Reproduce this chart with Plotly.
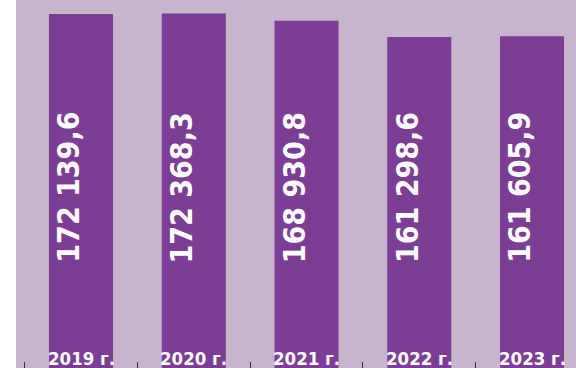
import plotly.graph_objects as go

# Annual totals
years = ["2019 г.", "2020 г.", "2021 г.", "2022 г.", "2023 г."]
values = [172139.6, 172368.3, 168930.8, 161298.6, 161605.9]

BAR = "#7c3d95"
BG = "#c8b4cc"
FONT = "DejaVu Sans Condensed, Liberation Sans Narrow, sans-serif"


def fmt(v):
    # 172139.6 -> "172 139,6"
    return f"{v:,.1f}".replace(",", " ").replace(".", ",")


fig = go.Figure(
    go.Bar(
        x=years,
        y=values,
        width=0.568,
        marker=dict(color=BAR, line=dict(width=0)),
        hoverinfo="skip",
    )
)

annotations = []
for yr, v in zip(years, values):
    # value written vertically inside the bar
    annotations.append(dict(
        x=yr, xref="x", y=0.49, yref="paper",
        text=fmt(v), textangle=-90, showarrow=False,
        xshift=-12,
        font=dict(family=FONT, size=30, color="white", weight="bold"),
    ))
    # year caption at the foot of the bar
    annotations.append(dict(
        x=yr, xref="x", y=0, yref="paper", yanchor="bottom",
        text=yr, showarrow=False, yshift=-3,
        font=dict(family=FONT, size=18.5, color="white", weight="bold"),
    ))

fig.update_layout(
    width=576, height=368,
    margin=dict(l=16, r=0, t=0, b=0),
    paper_bgcolor="white",
    plot_bgcolor=BG,
    showlegend=False,
    annotations=annotations,
    xaxis=dict(
        type="category",
        range=[-0.5765, 4.39],
        tickson="boundaries", ticks="inside", ticklen=6,
        tickcolor="#333333", tickwidth=1,
        showgrid=False, zeroline=False, showline=False,
        showticklabels=False,
    ),
    yaxis=dict(
        range=[5284, 178740],
        showgrid=False, zeroline=False, showline=False,
        showticklabels=False, ticks="",
    ),
)

fig.write_html("out.html")
